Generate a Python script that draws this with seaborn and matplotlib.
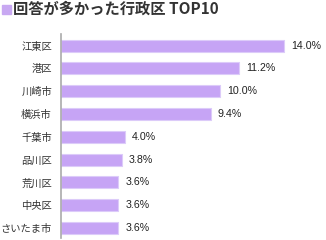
import matplotlib
matplotlib.use("Agg")
import matplotlib.pyplot as plt
import seaborn as sns
import pandas as pd

categories = ["江東区", "港区", "川崎市", "横浜市", "千葉市", "品川区", "荒川区", "中央区", "さいたま市"]
values = [14.0, 11.2, 10.0, 9.4, 4.0, 3.8, 3.6, 3.6, 3.6]
value_labels = ["14.0%", "11.2%", "10.0%", "9.4%", "4.0%", "3.8%", "3.6%", "3.6%", "3.6%"]
title_text = "回答が多かった行政区 TOP10"

sns.set_theme(style="white")
plt.rcParams['font.family'] = ['Noto Sans CJK JP', 'DejaVu Sans']

df = pd.DataFrame({"cat": categories, "val": values})

W, H = 326, 240
fig = plt.figure(figsize=(W / 100, H / 100), dpi=100)
ax = fig.add_axes([61 / W, (H - 238) / H, 256 / W, 204 / H])

sns.barplot(data=df, y="cat", x="val", orient="h", color="#C6A4F5",
            saturation=1, width=0.53, edgecolor="#DCCBF9", linewidth=0.8, ax=ax)

ax.set_xlim(0, 16.07)
ax.set_ylim(8.44, -0.51)
ax.set_xlabel("")
ax.set_ylabel("")
ax.set_xticks([])
for s in ["top", "right", "bottom"]:
    ax.spines[s].set_visible(False)
ax.spines["left"].set_color("#AAAAAA")
ax.spines["left"].set_linewidth(1.2)
ax.tick_params(axis="y", length=0, pad=6.5, labelsize=7.4, labelcolor="#333333")

for i, (v, lab) in enumerate(zip(values, value_labels)):
    ax.annotate(lab, xy=(v, i), xytext=(5, 0), textcoords="offset points",
                ha="left", va="center", fontsize=7.7, color="#222222",
                family=['Liberation Sans', 'DejaVu Sans'])

# title with square marker
fig.patches.append(plt.Rectangle((1.5 / W, (H - 14) / H), 9 / W, 9 / H,
                                 transform=fig.transFigure, color="#C8A8F2"))
fig.text(13 / W, (H - 9) / H, title_text, ha="left", va="center",
         fontsize=11, fontweight="bold", color="#333333")

fig.savefig("out.png", dpi=100)
